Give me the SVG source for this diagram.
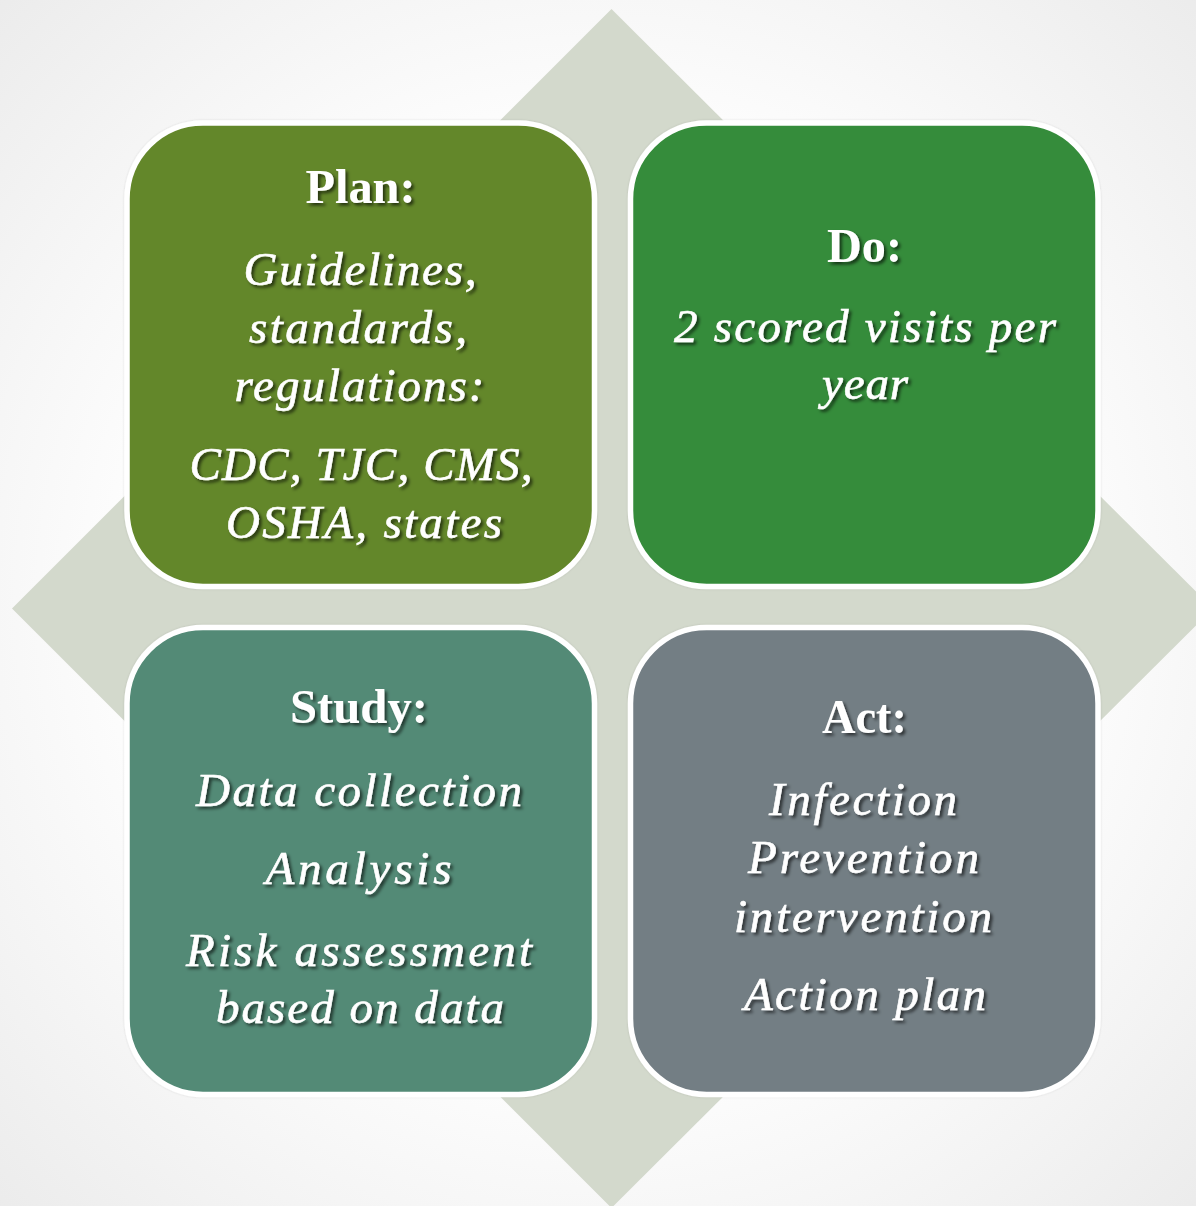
<svg xmlns="http://www.w3.org/2000/svg" width="1196" height="1206" viewBox="0 0 1196 1206">
<defs>
<radialGradient id="bg" cx="50%" cy="50%" r="72%">
<stop offset="0" stop-color="#ffffff"/>
<stop offset="0.5" stop-color="#ffffff"/>
<stop offset="1" stop-color="#ebebeb"/>
</radialGradient>
<filter id="ts" x="-10%" y="-30%" width="130%" height="170%">
<feDropShadow dx="2.5" dy="2.5" stdDeviation="1.4" flood-color="#000000" flood-opacity="0.6"/>
</filter>
<filter id="bs" x="-5%" y="-5%" width="110%" height="110%">
<feDropShadow dx="0" dy="0" stdDeviation="1" flood-color="#000000" flood-opacity="0.12"/>
</filter>
</defs>
<style>
.box{stroke:#ffffff;stroke-width:5.5}
.h{font-family:"Liberation Serif","Times New Roman",serif;font-weight:bold;font-size:49px;fill:#ffffff;text-anchor:middle;filter:url(#ts)}
.t{font-family:"Liberation Serif","Times New Roman",serif;font-style:italic;font-size:47px;fill:#ffffff;stroke:#ffffff;stroke-width:0.6;text-anchor:middle;filter:url(#ts)}
</style>
<rect width="1196" height="1206" fill="url(#bg)"/>
<polygon id="diamond" points="611.5,9 1213,608.5 611.5,1208 12,608.5" fill="#d3d9cc"/>
<g id="connectors"></g>
<g id="plan">
<rect class="box" x="127" y="123" width="467.5" height="463.5" rx="76" fill="#63872a" filter="url(#bs)"/>
<text class="h" x="360.5" y="203" textLength="110" lengthAdjust="spacingAndGlyphs">Plan:</text>
<text class="t" x="360" y="285" textLength="233">Guidelines,</text>
<text class="t" x="358" y="343" textLength="218">standards,</text>
<text class="t" x="359.5" y="401" textLength="250">regulations:</text>
<text class="t" x="361" y="480" textLength="343">CDC, TJC, CMS,</text>
<text class="t" x="364" y="538" textLength="276">OSHA, states</text>
</g>
<g id="do">
<rect class="box" x="630.5" y="123" width="467.5" height="463.5" rx="76" fill="#358c3b" filter="url(#bs)"/>
<text class="h" x="864.5" y="262" textLength="75" lengthAdjust="spacingAndGlyphs">Do:</text>
<text class="t" x="865" y="342" textLength="382">2 scored visits per</text>
<text class="t" x="865" y="399" textLength="86">year</text>
</g>
<g id="study">
<rect class="box" x="127" y="627.5" width="467.5" height="467" rx="76" fill="#528a76" filter="url(#bs)"/>
<text class="h" x="359" y="723" textLength="138" lengthAdjust="spacingAndGlyphs">Study:</text>
<text class="t" x="359" y="806" textLength="326">Data collection</text>
<text class="t" x="358.5" y="884" textLength="186">Analysis</text>
<text class="t" x="359" y="966" textLength="346">Risk assessment</text>
<text class="t" x="360" y="1023" textLength="288">based on data</text>
</g>
<g id="act">
<rect class="box" x="630.5" y="627.5" width="467.5" height="467" rx="76" fill="#737e84" filter="url(#bs)"/>
<text class="h" x="864.5" y="733" textLength="85" lengthAdjust="spacingAndGlyphs">Act:</text>
<text class="t" x="863" y="815" textLength="188">Infection</text>
<text class="t" x="863.5" y="873" textLength="231">Prevention</text>
<text class="t" x="863" y="932" textLength="258">intervention</text>
<text class="t" x="865" y="1010" textLength="242">Action plan</text>
</g>
</svg>
